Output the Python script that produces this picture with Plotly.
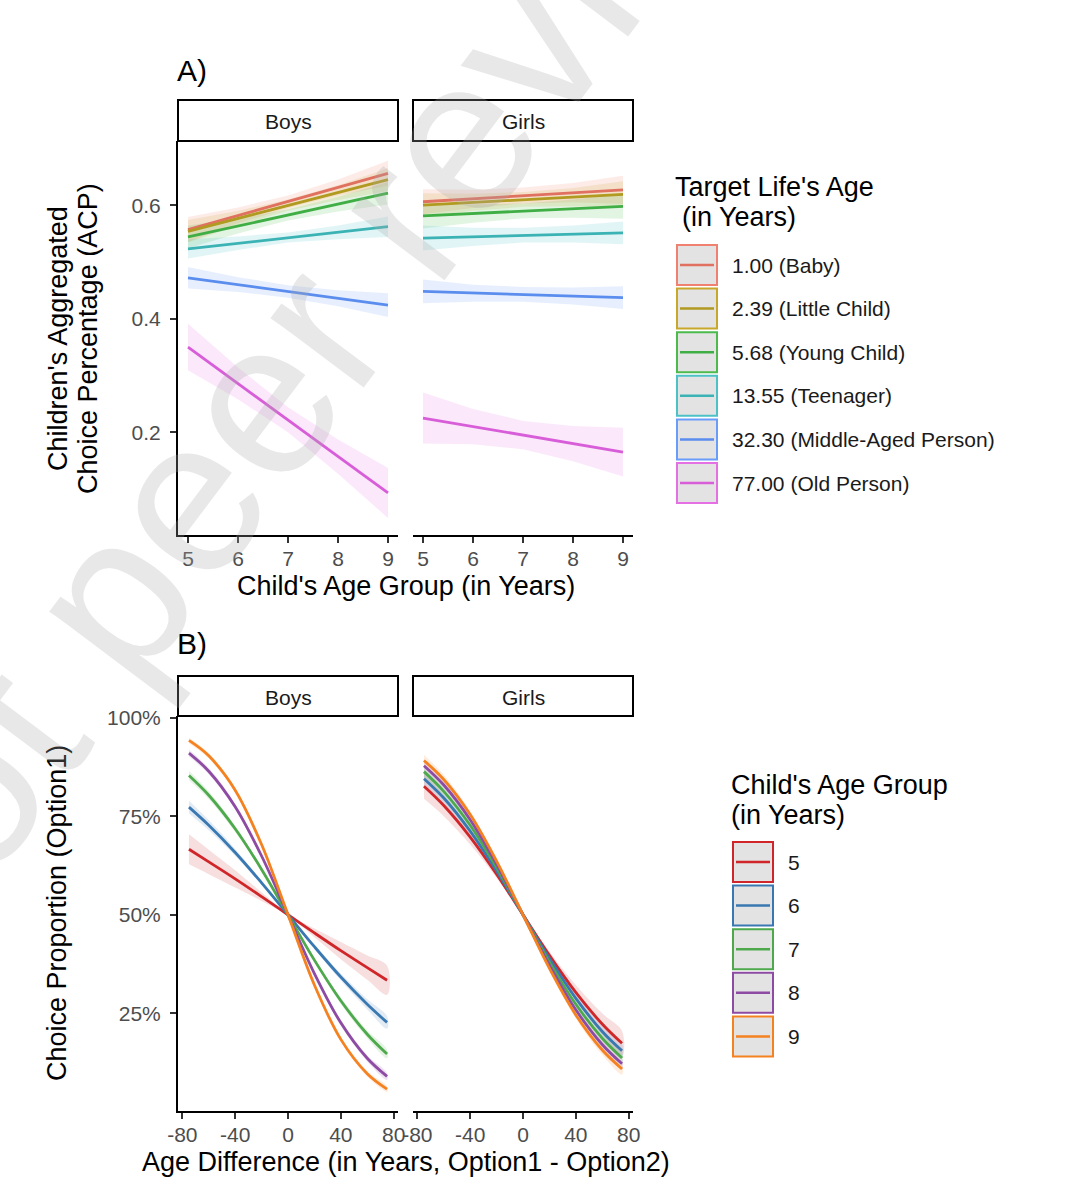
import plotly.graph_objects as go

W, H = 1078, 1200

# ===========================================================================================================
# Panel A: children's aggregated choice percentage by child's age group
child_age = [5, 6, 7, 8, 9]
target_labels = ["1.00 (Baby)", "2.39 (Little Child)", "5.68 (Young Child)",
                 "13.55 (Teenager)", "32.30 (Middle-Aged Person)", "77.00 (Old Person)"]

boys_acp = [
    [0.557, 0.582, 0.606, 0.631, 0.656],
    [0.554, 0.577, 0.600, 0.622, 0.645],
    [0.544, 0.563, 0.583, 0.602, 0.621],
    [0.523, 0.533, 0.543, 0.552, 0.562],
    [0.472, 0.460, 0.448, 0.436, 0.424],
    [0.350, 0.286, 0.222, 0.157, 0.093],
]
boys_acp_hw = [
    [0.022, 0.014, 0.011, 0.014, 0.022],
    [0.020, 0.013, 0.010, 0.013, 0.020],
    [0.020, 0.013, 0.010, 0.013, 0.020],
    [0.017, 0.012, 0.009, 0.012, 0.018],
    [0.019, 0.013, 0.011, 0.014, 0.021],
    [0.041, 0.028, 0.022, 0.030, 0.044],
]
girls_acp = [
    [0.606, 0.611, 0.617, 0.622, 0.627],
    [0.600, 0.605, 0.610, 0.614, 0.619],
    [0.581, 0.585, 0.590, 0.594, 0.598],
    [0.542, 0.544, 0.547, 0.549, 0.551],
    [0.448, 0.445, 0.443, 0.440, 0.437],
    [0.225, 0.210, 0.195, 0.180, 0.165],
]
girls_acp_hw = [
    [0.022, 0.016, 0.014, 0.017, 0.025],
    [0.021, 0.015, 0.013, 0.016, 0.023],
    [0.022, 0.016, 0.013, 0.016, 0.022],
    [0.022, 0.016, 0.013, 0.015, 0.020],
    [0.021, 0.015, 0.013, 0.015, 0.020],
    [0.045, 0.031, 0.025, 0.031, 0.043],
]

# ===========================================================================================================
# Panel B: choice proportion (Option1) by age difference, in percent
age_diff = [-75, -60, -40, -20, 0, 20, 40, 60, 75]
group_labels = ["5", "6", "7", "8", "9"]

boys_prop = [
    [66.6, 63.4, 59.1, 54.6, 50.0, 45.4, 40.9, 36.6, 33.4],
    [77.3, 72.7, 65.8, 58.1, 50.0, 41.9, 34.2, 27.3, 22.7],
    [85.3, 80.3, 71.8, 61.5, 50.0, 38.5, 28.2, 19.7, 14.7],
    [91.0, 86.4, 77.4, 64.9, 50.0, 35.1, 22.6, 13.6, 9.0],
    [94.2, 90.3, 81.6, 67.8, 50.0, 32.2, 18.4, 9.7, 5.8],
]
boys_prop_hw = [
    [3.8, 3.1, 2.2, 1.1, 0.2, 1.1, 2.2, 3.1, 3.7],
    [1.6, 1.3, 0.9, 0.5, 0.1, 0.5, 0.9, 1.3, 1.6],
    [1.2, 1.0, 0.8, 0.4, 0.1, 0.4, 0.8, 1.0, 1.1],
    [0.9, 0.8, 0.7, 0.4, 0.1, 0.4, 0.7, 0.8, 0.9],
    [0.7, 0.7, 0.6, 0.4, 0.1, 0.4, 0.6, 0.7, 0.7],
]
girls_prop = [
    [82.6, 77.7, 69.7, 60.3, 50.0, 39.7, 30.3, 22.3, 17.4],
    [84.5, 79.6, 71.2, 61.1, 50.0, 38.9, 28.8, 20.4, 15.5],
    [86.3, 81.3, 72.7, 62.0, 50.0, 38.0, 27.3, 18.7, 13.7],
    [87.8, 82.9, 74.1, 62.8, 50.0, 37.2, 25.9, 17.1, 12.2],
    [89.1, 84.3, 75.4, 63.6, 50.0, 36.4, 24.6, 15.7, 10.9],
]
girls_prop_hw = [
    [3.2, 2.7, 1.9, 1.0, 0.2, 1.0, 1.9, 2.7, 3.1],
    [1.8, 1.5, 1.1, 0.6, 0.1, 0.6, 1.1, 1.5, 1.8],
    [1.4, 1.2, 0.9, 0.5, 0.1, 0.5, 0.9, 1.2, 1.4],
    [1.2, 1.0, 0.8, 0.4, 0.1, 0.4, 0.8, 1.0, 1.2],
    [1.4, 1.2, 0.9, 0.5, 0.1, 0.5, 0.9, 1.2, 1.4],
]

# colours
a_line = ['#E0705F', '#B09A20', '#3FAE45', '#3BB3B5', '#5B8DEE', '#D85DD8']
a_key = ['#F08070', '#C8A82A', '#4CBB4C', '#4CC2C6', '#6A9CFA', '#E470E4']
b_line = ['#D0262A', '#3A78B2', '#4EA94C', '#8E4BA4', '#F58220']

FONT = "Liberation Sans, Arial, sans-serif"


def px(x):
    return x / W


def py(y):
    return 1 - y / H


def rgba(hexc, a):
    h = hexc.lstrip('#')
    return 'rgba(%d,%d,%d,%.2f)' % (int(h[0:2], 16), int(h[2:4], 16), int(h[4:6], 16), a)


def add_band(fig, x, fit, hw, color, xa, ya, scale=1.0, shape='linear', alpha=0.15):
    lo = [(f - h) / scale for f, h in zip(fit, hw)]
    hi = [(f + h) / scale for f, h in zip(fit, hw)]
    fig.add_trace(go.Scatter(
        x=list(x) + list(x)[::-1], y=hi + lo[::-1],
        fill='toself', fillcolor=rgba(color, alpha),
        line=dict(width=0, shape=shape), mode='lines',
        hoverinfo='skip', showlegend=False, xaxis=xa, yaxis=ya))


def add_line(fig, x, fit, color, name, xa, ya, scale=1.0, shape='linear'):
    fig.add_trace(go.Scatter(
        x=x, y=[f / scale for f in fit], mode='lines', name=name,
        line=dict(color=color, width=2.8, shape=shape),
        showlegend=False, xaxis=xa, yaxis=ya))


fig = go.Figure()

# ---- panel A traces
for fits, hws, xa, ya in [(boys_acp, boys_acp_hw, 'x', 'y'), (girls_acp, girls_acp_hw, 'x2', 'y2')]:
    for i in range(len(target_labels)):
        add_band(fig, child_age, fits[i], hws[i], a_key[i], xa, ya, alpha=0.16)
    for i in range(len(target_labels)):
        add_line(fig, child_age, fits[i], a_line[i], target_labels[i], xa, ya)

# ---- panel B traces
for fits, hws, xa, ya in [(boys_prop, boys_prop_hw, 'x3', 'y3'), (girls_prop, girls_prop_hw, 'x4', 'y4')]:
    for i in range(len(group_labels)):
        add_band(fig, age_diff, fits[i], hws[i], b_line[i], xa, ya, scale=100.0, shape='spline', alpha=0.15)
    for i in range(len(group_labels)):
        add_line(fig, age_diff, fits[i], b_line[i], group_labels[i], xa, ya, scale=100.0, shape='spline')

# ===========================================================================================================
# axes
tickfont = dict(size=21, color='#4D4D4D', family=FONT)
common_x = dict(showgrid=False, zeroline=False, showline=True, linecolor='black', linewidth=2,
                ticks='outside', ticklen=6, tickwidth=1.5, tickcolor='#333333', tickfont=tickfont,
                automargin=False, ticklabelstandoff=-2)
common_y = dict(showgrid=False, zeroline=False, showline=True, linecolor='black', linewidth=2,
                ticks='outside', ticklen=6, tickwidth=1.5, tickcolor='#333333', tickfont=tickfont,
                automargin=False, ticklabelstandoff=5)
hidden_y = dict(showgrid=False, zeroline=False, showline=False, ticks='', showticklabels=False,
                automargin=False)

xa_A = [178, 398]
xa_A2 = [413, 633]
ya_A = [535, 141]
ya_B = [1111, 716]
diff_ticks = [-80, -40, 0, 40, 80]

layout = dict(
    width=W, height=H,
    margin=dict(l=0, r=0, t=0, b=0, autoexpand=False),
    paper_bgcolor='white', plot_bgcolor='rgba(0,0,0,0)',
    font=dict(family=FONT, color='black'),
    showlegend=False,
    xaxis=dict(common_x, domain=[px(xa_A[0]), px(xa_A[1])], anchor='y', range=[4.8, 9.2],
               tickvals=child_age),
    yaxis=dict(common_y, domain=[py(ya_A[0]), py(ya_A[1])], anchor='x', range=[0.019, 0.713],
               tickvals=[0.2, 0.4, 0.6], ticktext=['0.2', '0.4', '0.6']),
    xaxis2=dict(common_x, domain=[px(xa_A2[0]), px(xa_A2[1])], anchor='y2', range=[4.8, 9.2],
                tickvals=child_age),
    yaxis2=dict(hidden_y, domain=[py(ya_A[0]), py(ya_A[1])], anchor='x2', range=[0.019, 0.713]),
    xaxis3=dict(common_x, domain=[px(xa_A[0]), px(xa_A[1])], anchor='y3', range=[-83.3, 83.3],
                tickvals=diff_ticks, ticktext=[str(t) for t in diff_ticks]),
    yaxis3=dict(common_y, domain=[py(ya_B[0]), py(ya_B[1])], anchor='x3', range=[0.0024, 1.004],
                tickvals=[0.25, 0.5, 0.75, 1.0], ticktext=['25%', '50%', '75%', '100%']),
    xaxis4=dict(common_x, domain=[px(xa_A2[0]), px(xa_A2[1])], anchor='y4', range=[-83.3, 83.3],
                tickvals=diff_ticks, ticktext=[str(t) for t in diff_ticks]),
    yaxis4=dict(hidden_y, domain=[py(ya_B[0]), py(ya_B[1])], anchor='x4', range=[0.0024, 1.004]),
)
fig.update_layout(layout)

shapes = []
annotations = []


def text(x, y, s, size, xanchor='center', yanchor='middle', angle=0, color='black'):
    annotations.append(dict(xref='paper', yref='paper', x=px(x), y=py(y), text=s, showarrow=False,
                            xanchor=xanchor, yanchor=yanchor, textangle=angle,
                            font=dict(size=size, color=color, family=FONT)))


# facet strips
for top, bottom in [(100, 141), (676, 716)]:
    for left, right, label in [(xa_A[0], xa_A[1], 'Boys'), (xa_A2[0], xa_A2[1], 'Girls')]:
        shapes.append(dict(type='rect', xref='paper', yref='paper', x0=px(left), x1=px(right),
                           y0=py(bottom), y1=py(top), line=dict(color='black', width=2),
                           fillcolor='white', layer='below'))
        text((left + right) / 2, (top + bottom) / 2 + 1, label, 21, color='#1A1A1A')

# panel tags and axis titles
text(175, 70, 'A)', 30, xanchor='left')
text(175, 643, 'B)', 30, xanchor='left')
text(406, 586, "Child's Age Group (in Years)", 27)
text(406, 1162, "Age Difference (in Years, Option1 - Option2)", 27)
text(58, 339, "Children's Aggregated", 27, angle=-90)
text(88, 339, "Choice Percentage (ACP)", 27, angle=-90)
text(57, 913, "Choice Proportion (Option1)", 27, angle=-90)

# legend A
text(673, 187, "Target Life's Age", 27, xanchor='left')
text(680, 217, "(in Years)", 27, xanchor='left')
for i, lab in enumerate(target_labels):
    cy = 265 + 43.6 * i
    shapes.append(dict(type='rect', xref='paper', yref='paper', x0=px(677), x1=px(717),
                       y0=py(cy + 20), y1=py(cy - 20), line=dict(color=a_key[i], width=2),
                       fillcolor='#E3E3E3'))
    shapes.append(dict(type='line', xref='paper', yref='paper', x0=px(680), x1=px(714),
                       y0=py(cy), y1=py(cy), line=dict(color=a_line[i], width=2.5)))
    text(730, cy, lab, 21, xanchor='left', color='#1A1A1A')

# legend B
text(729, 785, "Child's Age Group", 27, xanchor='left')
text(729, 815, "(in Years)", 27, xanchor='left')
for i, lab in enumerate(group_labels):
    cy = 862 + 43.6 * i
    shapes.append(dict(type='rect', xref='paper', yref='paper', x0=px(733), x1=px(773),
                       y0=py(cy + 20), y1=py(cy - 20), line=dict(color=b_line[i], width=2),
                       fillcolor='#E3E3E3'))
    shapes.append(dict(type='line', xref='paper', yref='paper', x0=px(736), x1=px(770),
                       y0=py(cy), y1=py(cy), line=dict(color=b_line[i], width=2.5)))
    text(786, cy, lab, 21, xanchor='left', color='#1A1A1A')

# preprint watermark
annotations.append(dict(xref='paper', yref='paper', x=px(128), y=py(574), text='Preprint not peer reviewed',
                        showarrow=False, textangle=-53, xanchor='center', yanchor='middle',
                        font=dict(size=220, color='rgba(170,170,170,0.27)', family=FONT)))

fig.update_layout(shapes=shapes, annotations=annotations)

fig.write_html("out.html", config={'displayModeBar': False},
               post_script="document.body.style.margin='0';")
